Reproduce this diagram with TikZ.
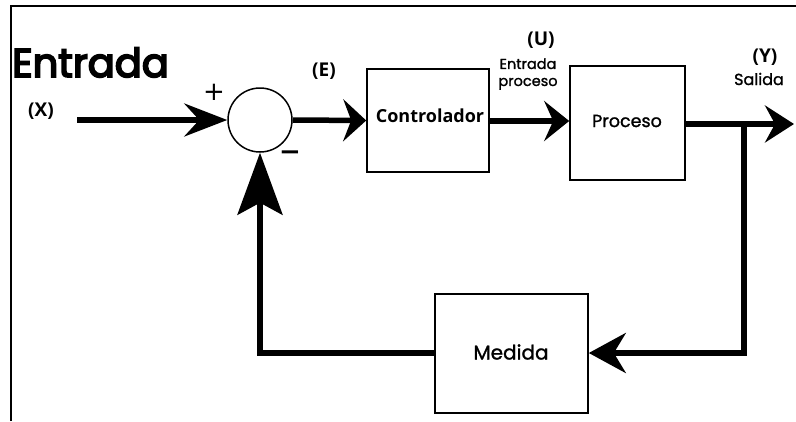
\documentclass[tikz,border=0pt]{standalone}
\usepackage{fontspec}
\usetikzlibrary{arrows.meta}
\newfontfamily\popfont[FakeBold=1.3]{Poppins}
\newfontfamily\titlefont[FakeBold=4.5]{Poppins}
\newfontfamily\opfont{Open Sans}
\newfontfamily\symfont{DejaVu Sans}
\begin{document}
\begin{tikzpicture}[x=1pt,y=-1pt,
  sig/.style={line width=5.5pt},
  tag/.style={font=\opfont\bfseries\fontsize{19}{21}\selectfont},
]
\useasboundingbox (0,0) rectangle (796,421);
\fill[white] (0,0) rectangle (796,421);
% frame on the left and top
\draw[line width=2pt] (11,421) -- (11,6) -- (796,6);

% blocks
\node[draw,line width=1.5pt,circle,minimum size=64pt,inner sep=0pt] (sum) at (260,120) {};
\node[draw,line width=1.6pt,minimum width=122pt,minimum height=103pt] (ctrl) at (428,120.5) {};
\node[draw,line width=1.6pt,minimum width=115pt,minimum height=114pt] (proc) at (627.5,123) {};
\node[draw,line width=1.6pt,minimum width=153pt,minimum height=119pt] (meas) at (511.5,353.5) {};

% block labels
\node[font=\opfont\bfseries\fontsize{18}{20}\selectfont] at (430,116) {Controlador};
\node[font=\popfont\fontsize{17.5}{20}\selectfont] at (627,121) {Proceso};
\node[font=\popfont\fontsize{20}{22}\selectfont] at (511,352) {Medida};

% signal labels
\node[anchor=base west,inner sep=0pt,font=\titlefont\fontsize{40}{46}\selectfont] at (12,77) {Entrada};
\node[tag] at (41,111) {(X)};
\node[tag] at (324,71) {(E)};
\node[tag] at (541,40) {(U)};
\node[tag] at (765,57) {(Y)};
\node[align=center,inner sep=0pt,font=\popfont\fontsize{14.5}{17}\selectfont] at (528,74) {Entrada\\proceso};
\node[font=\popfont\fontsize{16}{18}\selectfont] at (759,79) {Salida};
\node[font=\symfont\fontsize{26}{28}\selectfont] at (214,92) {+};
\node[font=\symfont\bfseries\fontsize{26}{28}\selectfont] at (290,156) {−};

% connectors
\coordinate (xin) at (77,120);
\coordinate (yout) at (794,124);
\coordinate (tap) at (744,124);
\coordinate (tapdown) at (744,353);
\coordinate (back) at (260,353);

\draw[sig,-{Stealth[length=43pt,width=33pt,inset=15pt]}] (xin) -- (sum.west);
\draw[sig,-{Stealth[length=23pt,width=42pt,inset=8pt]}] (sum.east) -- (ctrl.west);
\draw[sig,-{Stealth[length=25pt,width=40pt,inset=9pt]}] (ctrl.east |- 0,121) -- (proc.west |- 0,121);
\draw[sig,-{Stealth[length=29pt,width=37pt,inset=10pt]}] (proc.east |- yout) -- (yout);
\draw[sig,-{Stealth[length=37pt,width=40pt,inset=12pt]}] (tap) -- (tapdown) -- (meas.east |- tapdown);
\draw[sig,-{Stealth[length=62pt,width=45pt,inset=12pt]}] (meas.west |- back) -- (back) -- (sum.south);
\end{tikzpicture}
\end{document}
